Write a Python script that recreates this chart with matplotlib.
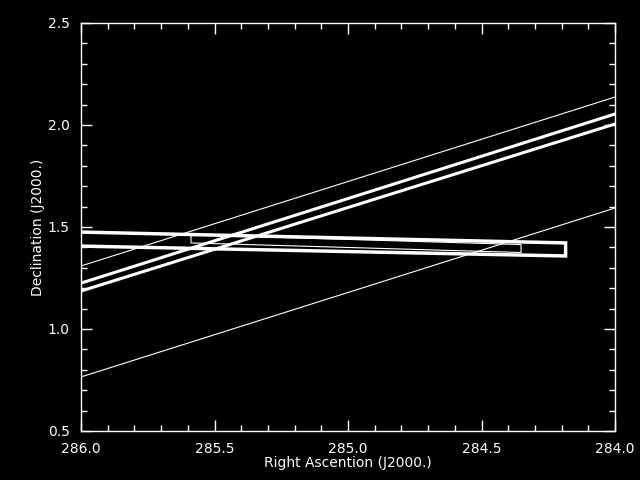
import matplotlib
matplotlib.use("Agg")
import matplotlib.pyplot as plt
from matplotlib.ticker import MultipleLocator

# Thin lines (RA, Dec endpoints)
thin1_ra = [286.0, 284.0]
thin1_dec = [1.309, 2.137]
thin2_ra = [286.0, 284.0]
thin2_dec = [0.765, 1.593]
# Thick lines
thick1_ra = [286.0, 284.0]
thick1_dec = [1.225, 2.054]
thick2_ra = [286.0, 284.0]
thick2_dec = [1.186, 2.005]
# Thick polygon (footprint)
poly_ra = [286.1, 284.185, 284.185, 286.1]
poly_dec = [1.478, 1.422, 1.358, 1.409]
# Thin inner polygon
inner_ra = [285.588, 284.352, 284.352, 285.588, 285.588]
inner_dec = [1.462, 1.414, 1.375, 1.422, 1.462]

fig = plt.figure(figsize=(6.4, 4.8), dpi=100, facecolor="black")
ax = fig.add_axes([81/640, 49/480, 534/640, 408/480], facecolor="black")

ax.plot(thin1_ra, thin1_dec, color="white", lw=0.8)
ax.plot(thin2_ra, thin2_dec, color="white", lw=0.8)
ax.plot(thick1_ra, thick1_dec, color="white", lw=2.2)
ax.plot(thick2_ra, thick2_dec, color="white", lw=2.2)
ax.plot(poly_ra + [poly_ra[0]], poly_dec + [poly_dec[0]], color="white", lw=2.5, solid_joinstyle="miter")
ax.plot(inner_ra, inner_dec, color="white", lw=0.8)

ax.set_xlim(286.0, 284.0)
ax.set_ylim(0.5, 2.5)
ax.xaxis.set_major_locator(MultipleLocator(0.5))
ax.xaxis.set_minor_locator(MultipleLocator(0.1))
ax.yaxis.set_major_locator(MultipleLocator(0.5))
ax.yaxis.set_minor_locator(MultipleLocator(0.1))
ax.xaxis.set_major_formatter(plt.FormatStrFormatter("%.1f"))
ax.yaxis.set_major_formatter(plt.FormatStrFormatter("%.1f"))

for s in ax.spines.values():
    s.set_color("white")
    s.set_linewidth(1.0)
ax.tick_params(which="both", direction="in", top=True, right=True, colors="white",
               labelcolor="white", labelsize=10, width=1.0)
ax.tick_params(which="major", length=8, pad=8)
ax.tick_params(which="minor", length=4.3)

ax.set_xlabel("Right Ascention (J2000.)", color="white", fontsize=10, labelpad=0)
ax.set_ylabel("Declination (J2000.)", color="white", fontsize=10, labelpad=2)

fig.savefig("out.png", dpi=100, facecolor="black")
